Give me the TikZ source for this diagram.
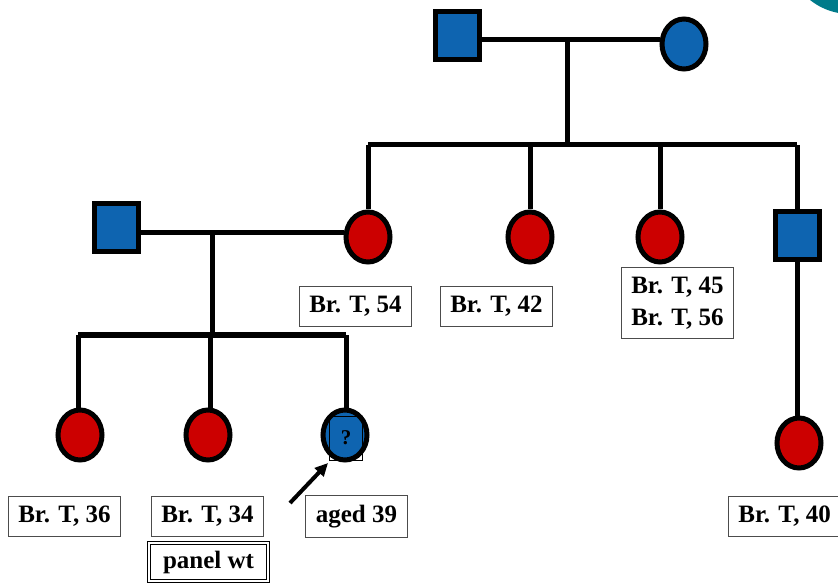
\documentclass[tikz,border=0pt]{standalone}
\usepackage{fontspec}
\setmainfont{Liberation Serif}
\usetikzlibrary{arrows.meta,shapes.geometric,calc}
\definecolor{pblue}{RGB}{14,100,176}
\definecolor{pred}{RGB}{204,0,0}
\definecolor{pteal}{RGB}{0,123,138}
\tikzset{
  male/.style={draw=black,line width=5pt,fill=pblue,minimum width=44pt,minimum height=48pt,inner sep=0pt},
  fem/.style={ellipse,draw=black,line width=5pt,fill=#1,minimum width=44pt,minimum height=50pt,inner sep=0pt},
  fem/.default=pred,
  link/.style={line width=5pt,black},
  lab/.style={draw=black!70,line width=0.8pt,fill=white,font=\fontsize{25}{32}\selectfont\bfseries,inner xsep=10pt,inner ysep=9.5pt,align=center},
}
\begin{document}
\begin{tikzpicture}[x=1pt,y=-1pt]
\useasboundingbox (0,0) rectangle (838,585);
\begin{scope}
\clip (0,0) rectangle (838,585);
\fill[pteal] (850,-50) circle (64);
\end{scope}
% generation 1
\node[male] (gf) at (457,36) {};
\node[fem=pblue] (gm) at (684,44) {};
\coordinate (m1) at (567,40);
\coordinate (s1) at (567,145);
\coordinate (s1a) at (368,145);
\coordinate (s1d) at (797,145);
\coordinate (s1b) at (530,145);
\coordinate (s1c) at (660,145);
% generation 2
\node[male] (uf) at (116,228) {};
\node[fem] (mo) at (368,237) {};
\node[fem] (a2) at (530,237) {};
\node[fem] (a3) at (660,237) {};
\node[male] (u4) at (797,236) {};
\coordinate (m2) at (212,233);
\coordinate (s2) at (212,335);
\coordinate (s2a) at (78,335);
\coordinate (s2b) at (210,335);
\coordinate (s2c) at (346,335);
% generation 3
\node[fem] (c1) at (80,435) {};
\node[fem] (c2) at (208,435) {};
\node[fem=pblue] (c3) at (345,435) {};
\node[draw=black,line width=0.6pt,minimum width=33pt,minimum height=44pt,inner sep=0pt,font=\fontsize{21}{24}\selectfont\bfseries] (q) at (346,438) {?};
\node[fem] (cu) at (799,443) {};
% connectors
\draw[link] (gf.east |- m1) -- (gm.west |- m1);
\draw[link] (m1) -- (s1);
\draw[link] (s1a) -- (s1d);
\draw[link] (s1a) -- (mo.north -| s1a);
\draw[link] (s1b) -- (a2.north);
\draw[link] (s1c) -- (a3.north);
\draw[link] (s1d) -- (u4.north);
\draw[link] (uf.east |- m2) -- (mo.west |- m2);
\draw[link] (m2) -- (s2);
\draw[link] (s2a) -- (s2c);
\draw[link] (s2a) -- (c1.north -| s2a);
\draw[link] (s2b) -- (c2.north -| s2b);
\draw[link] (s2c) -- (c3.north -| s2c);
\draw[link] (u4.south) -- (cu.north -| u4.south);
% labels
\node[lab] (l54) at (355.5,306.5) {Br. T, 54};
\node[lab] (l42) at (496.5,306.5) {Br. T, 42};
\node[lab] (l45) at (677.5,303) {Br. T, 45\\Br. T, 56};
\node[lab] (l36) at (64.5,516.5) {Br. T, 36};
\node[lab] (l34) at (207.5,516.5) {Br. T, 34};
\node[lab] (l39) at (356.5,516.5) {aged 39};
\node[lab,anchor=west] (l40) at (728,516.5) {Br. T, 40};
\node[lab,double=white,double distance=2pt,draw=black,line width=1pt,inner ysep=7.5pt,inner xsep=14pt] (pw) at (208.5,562) {panel wt};
\coordinate (ar) at (290,503);
\draw[line width=4pt,-{Triangle[length=13pt,width=12pt]}] (ar) -- (328,463);
\end{tikzpicture}
\end{document}
